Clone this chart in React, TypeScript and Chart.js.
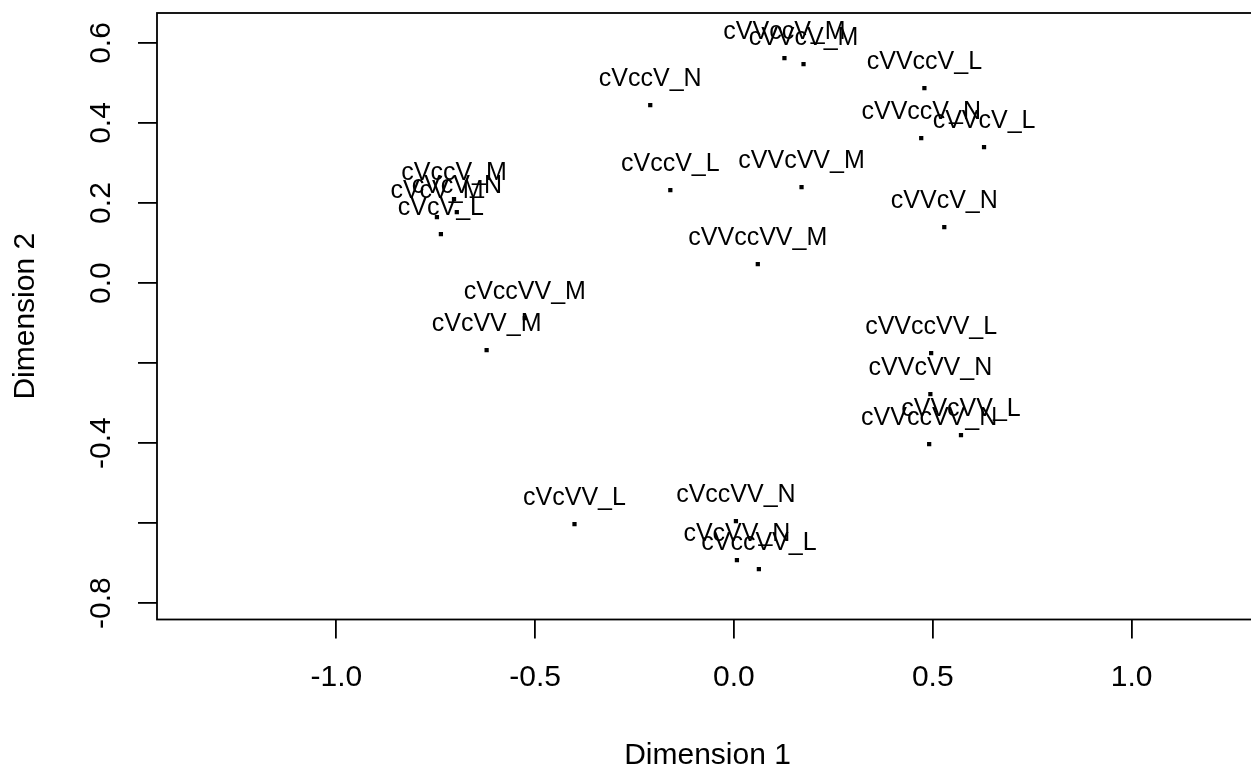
import React, { useEffect, useRef } from "react";
import { Chart, registerables } from "chart.js";

Chart.register(...registerables);

const labels: string[] = [
  "cVcV_L", "cVcV_M", "cVcV_N",
  "cVccV_L", "cVccV_M", "cVccV_N",
  "cVcVV_L", "cVcVV_M", "cVcVV_N",
  "cVccVV_L", "cVccVV_M", "cVccVV_N",
  "cVVcV_L", "cVVcV_M", "cVVcV_N",
  "cVVccV_L", "cVVccV_M", "cVVccV_N",
  "cVVcVV_L", "cVVcVV_M", "cVVcVV_N",
  "cVVccVV_L", "cVVccVV_M", "cVVccVV_N",
];
const dim1: number[] = [
  -0.737, -0.747, -0.697,
  -0.16, -0.704, -0.2105,
  -0.401, -0.622, 0.0075,
  0.0627, -0.526, 0.005,
  0.629, 0.175, 0.529,
  0.479, 0.127, 0.471,
  0.571, 0.17, 0.494,
  0.496, 0.06, 0.491,
];
const dim2: number[] = [
  0.1225, 0.165, 0.1775,
  0.2325, 0.21, 0.445,
  -0.6025, -0.1675, -0.6925,
  -0.715, -0.0875, -0.595,
  0.34, 0.5475, 0.14,
  0.4875, 0.5625, 0.3625,
  -0.38, 0.24, -0.2775,
  -0.175, 0.0475, -0.4025,
];
const xTicks: number[] = [-1.0, -0.5, 0.0, 0.5, 1.0];
const yTicks: number[] = [-0.8, -0.6, -0.4, -0.2, 0.0, 0.2, 0.4, 0.6];
const yTickLabelsShown: number[] = [-0.8, -0.4, 0.0, 0.2, 0.4, 0.6];

const FONT = "'Liberation Sans', Arial, sans-serif";

export default function App() {
  const ref = useRef<HTMLCanvasElement | null>(null);
  useEffect(() => {
    if (!ref.current) return;
    const boxPlugin = {
      id: "box",
      afterDraw(chart: any) {
        const { ctx, chartArea } = chart;
        ctx.save();
        ctx.strokeStyle = "#000";
        ctx.lineWidth = 1.8;
        ctx.strokeRect(chartArea.left, chartArea.top, chartArea.right - chartArea.left, chartArea.bottom - chartArea.top);
        ctx.restore();
      },
    };
    const textPlugin = {
      id: "pointText",
      afterDatasetsDraw(chart: any) {
        const { ctx } = chart;
        const meta = chart.getDatasetMeta(0);
        ctx.save();
        ctx.fillStyle = "#000";
        ctx.font = `25px ${FONT}`;
        ctx.textAlign = "center";
        ctx.textBaseline = "middle";
        meta.data.forEach((pt: any, i: number) => {
          ctx.fillText(labels[i], pt.x, pt.y - 26);
        });
        ctx.restore();
      },
    };
    const chart = new Chart(ref.current, {
      type: "scatter",
      data: {
        datasets: [
          {
            data: dim1.map((x, i) => ({ x, y: dim2[i] })),
            pointStyle: "rect",
            pointRadius: 3,
            pointBorderWidth: 0,
            backgroundColor: "#000",
            borderColor: "#000",
          },
        ],
      },
      options: {
        responsive: false,
        animation: false,
        devicePixelRatio: 1,
        layout: { padding: { top: 13, right: 0, bottom: 0, left: 0 } },
        plugins: { legend: { display: false }, tooltip: { enabled: false } },
        scales: {
          x: {
            type: "linear",
            min: -1.451,
            max: 1.318,
            border: { display: false },
            grid: { drawOnChartArea: false, drawTicks: true, tickLength: 19, color: "#000", lineWidth: 1.8 },
            afterBuildTicks: (scale: any) => {
              scale.ticks = xTicks.map((v) => ({ value: v }));
            },
            afterFit: (scale: any) => {
              scale.height = 150.5;
              scale.paddingLeft = 0;
              scale.paddingRight = 0;
            },
            ticks: {
              color: "#000",
              padding: 21,
              font: { family: FONT, size: 30 },
              maxRotation: 0,
              minRotation: 0,
              autoSkip: false,
              callback: (v: any) => Number(v).toFixed(1),
            },
            title: {
              display: true,
              text: "Dimension 1",
              color: "#000",
              font: { family: FONT, size: 30, lineHeight: 1 },
              padding: { top: 0, bottom: -1 },
            },
          },
          y: {
            type: "linear",
            min: -0.841,
            max: 0.675,
            border: { display: false },
            grid: { drawOnChartArea: false, drawTicks: true, tickLength: 19, color: "#000", lineWidth: 1.8 },
            afterBuildTicks: (scale: any) => {
              scale.ticks = yTicks.map((v) => ({ value: v }));
            },
            afterFit: (scale: any) => {
              scale.width = 157;
              scale.paddingTop = 0;
              scale.paddingBottom = 0;
            },
            ticks: {
              color: "#000",
              padding: 10,
              crossAlign: "center",
              minRotation: 90,
              maxRotation: 90,
              autoSkip: false,
              font: { family: FONT, size: 30 },
              callback: (v: any) => {
                const n = Number(v);
                return yTickLabelsShown.some((s) => Math.abs(s - n) < 1e-9) ? n.toFixed(1) : "";
              },
            },
            title: {
              display: true,
              text: "Dimension 2",
              color: "#000",
              font: { family: FONT, size: 30, lineHeight: 1 },
              padding: { top: 11, bottom: 0 },
            },
          },
        },
      },
      plugins: [boxPlugin, textPlugin],
    } as any);
    return () => chart.destroy();
  }, []);
  return (
    <div style={{ position: "absolute", left: 0, top: 0, width: 1251, height: 770, overflow: "hidden", background: "#fff" }}>
      <canvas ref={ref} width={1262} height={770} style={{ width: 1262, height: 770, display: "block" }} />
    </div>
  );
}
